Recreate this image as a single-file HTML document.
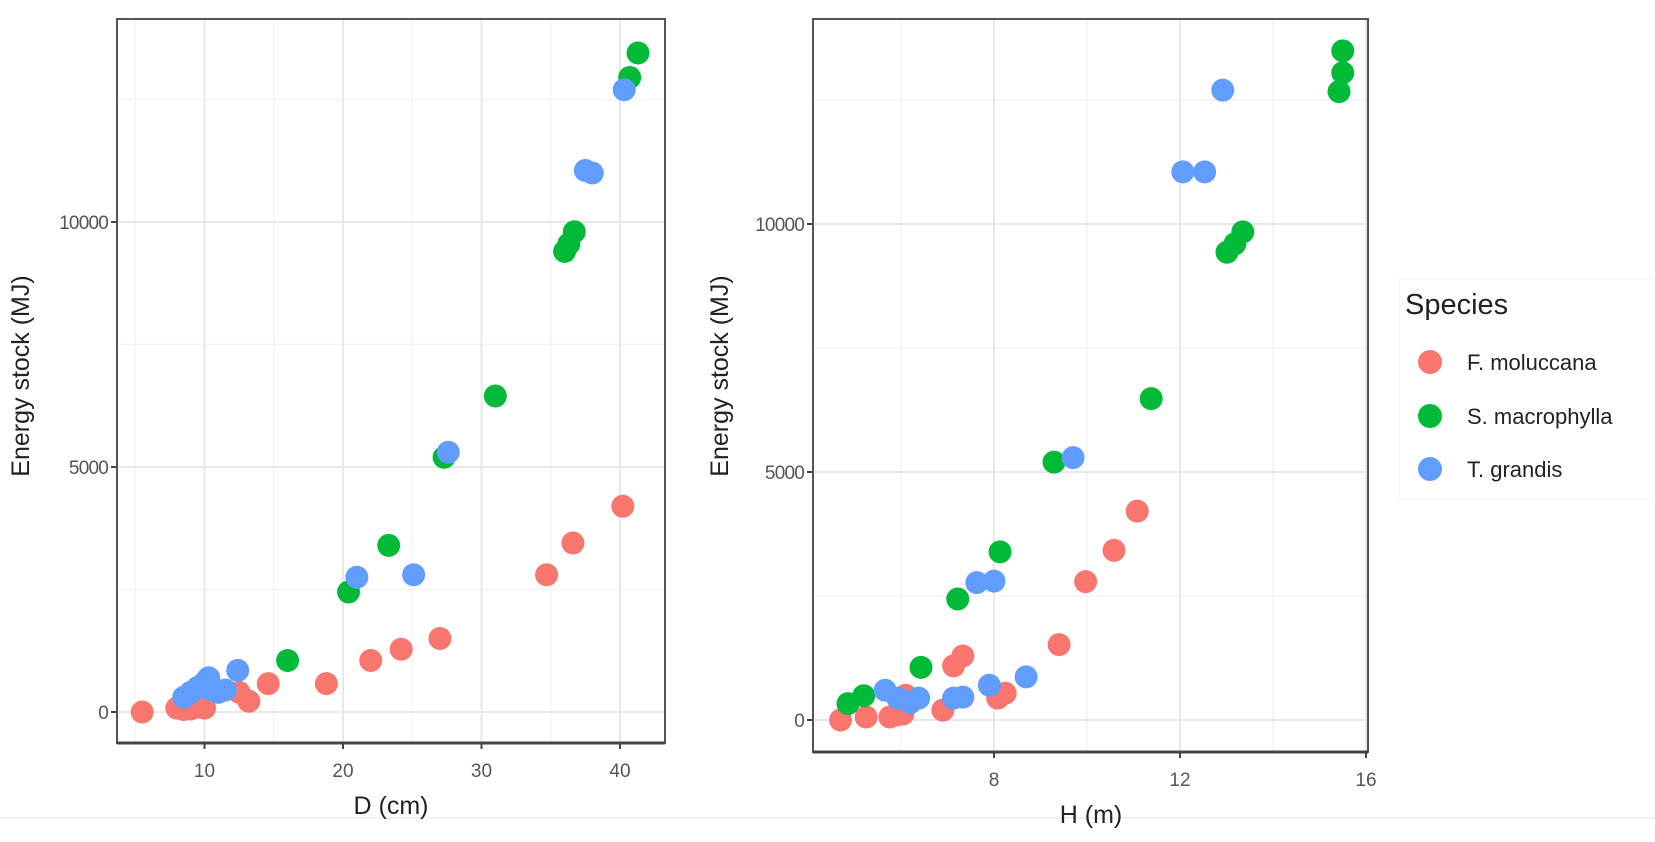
<!DOCTYPE html>
<html><head><meta charset="utf-8">
<style>
html,body{margin:0;padding:0;background:#fff;}
svg{display:block;font-family:"Liberation Sans",sans-serif;}
</style></head>
<body>
<svg id="chart" width="1655" height="842" viewBox="0 0 1655 842" xmlns="http://www.w3.org/2000/svg">
<line x1="0" y1="818" x2="1655" y2="818" stroke="#f0f0f0" stroke-width="2"/>
<g id="left"></g>
<g id="right"></g>
<g id="legend">
  <rect x="1399" y="279" width="256" height="220" fill="#fff" stroke="#f3f3f3"/>
  <text x="1405" y="314" font-size="29" fill="#222">Species</text>
  <circle cx="1430" cy="362" r="12" fill="#F8766D"/>
  <text x="1467" y="370" font-size="22" fill="#222">F. moluccana</text>
  <circle cx="1430" cy="416" r="12" fill="#00BA38"/>
  <text x="1467" y="424" font-size="22" fill="#222">S. macrophylla</text>
  <circle cx="1430" cy="469" r="12" fill="#619CFF"/>
  <text x="1467" y="477" font-size="22" fill="#222">T. grandis</text>
</g>
</svg>
<script>
// ---- data: left panel (D cm vs energy MJ) ----
const leftRedD = [5.5,8,8.5,9,9.5,10,12.5,13.2,14.6,18.8,22,24.2,27,34.7,36.6,40.2];
const leftRedE = [0,80,50,60,100,80,400,220,580,580,1050,1280,1500,2800,3450,4200];
const leftGreenD = [16,20.4,23.3,27.3,31,36,36.3,36.7,40.7,41.3];
const leftGreenE = [1050,2450,3400,5200,6450,9400,9550,9800,12950,13450];
const leftBlueD = [8.5,9,9.5,10,10.3,10.5,11,11.5,12.4,21,25.1,27.6,37.5,38,40.3];
const leftBlueE = [300,400,500,600,700,450,400,450,850,2750,2800,5300,11050,11000,12700];
// ---- data: right panel (H m vs energy MJ) ----
const rightRedH = [4.7,5.25,5.76,5.9,6.04,6.1,6.9,7.13,7.33,8.08,8.24,9.4,9.97,10.58,11.08];
const rightRedE = [0,60,60,100,120,500,200,1090,1290,440,540,1520,2790,3420,4210];
const rightGreenH = [4.86,5.2,6.43,7.22,8.13,9.29,11.38,13.01,13.18,13.35,15.42,15.5,15.5];
const rightGreenE = [330,490,1060,2440,3390,5200,6480,9430,9600,9840,12670,13050,13490];
const rightBlueH = [5.66,5.93,6.2,6.38,7.13,7.33,7.9,8.69,7.63,8.0,9.7,12.06,12.53,12.92];
const rightBlueE = [600,440,350,440,440,460,700,870,2770,2800,5290,11050,11050,12700];
// ---- ticks ----
const leftXTicks = [10,20,30,40];
const leftXMinor = [5,15,25,35];
const rightXTicks = [8,12,16];
const rightXMinor = [6,10,14];
const yTicks = [0,5000,10000];
const yMinor = [2500,7500,12500];

const NS="http://www.w3.org/2000/svg";
const RED="#F8766D", GREEN="#00BA38", BLUE="#619CFF";
function mk(tag, attrs, parent){const e=document.createElementNS(NS,tag);for(const k in attrs)e.setAttribute(k,attrs[k]);parent.appendChild(e);return e;}

function panel(g, cfg){
  const sx=v=>cfg.x0+(v-cfg.xv0)*cfg.xs;
  const sy=v=>cfg.y0-v*cfg.ys;
  const bg=mk('rect',{x:cfg.L,y:cfg.T,width:cfg.R-cfg.L,height:cfg.B-cfg.T,fill:'#fff'},g);
  
  
  cfg.xMinor.forEach(v=>{const l=mk('line',{x1:sx(v),x2:sx(v),y1:cfg.T,y2:cfg.B,stroke:'#f4f4f4','stroke-width':1.5},g);
    
    });
  yMinor.forEach(v=>{const l=mk('line',{x1:cfg.L,x2:cfg.R,y1:sy(v),y2:sy(v),stroke:'#f4f4f4','stroke-width':1.5},g);
    
    });
  cfg.xTicks.forEach(v=>{const l=mk('line',{x1:sx(v),x2:sx(v),y1:cfg.T,y2:cfg.B,stroke:'#e8e8e8','stroke-width':2},g);
    
    
    const t=mk('line',{x1:sx(v),x2:sx(v),y1:cfg.B,y2:cfg.B+6,stroke:'#444','stroke-width':2},g);
    
    
    const tx=mk('text',{x:sx(v),y:cfg.B+34,'text-anchor':'middle','font-size':19,fill:'#555'},g);
    tx.textContent=v;
    
    });
  yTicks.forEach(v=>{const l=mk('line',{x1:cfg.L,x2:cfg.R,y1:sy(v),y2:sy(v),stroke:'#e8e8e8','stroke-width':2},g);
    
    
    const t=mk('line',{x1:cfg.L-6,x2:cfg.L,y1:sy(v),y2:sy(v),stroke:'#444','stroke-width':2},g);
    
    
    const tx=mk('text',{x:cfg.L-9,y:sy(v)+7,'text-anchor':'end','font-size':19,fill:'#555','letter-spacing':'-0.8'},g);
    tx.textContent=v;
    
    });
  const series=[[cfg.rx,cfg.ry,RED,'f-moluccana'],[cfg.gx,cfg.gy,GREEN,'s-macrophylla'],[cfg.bx,cfg.by,BLUE,'t-grandis']];
  series.forEach(([xs,ys,col,nm])=>{xs.forEach((xv,i)=>{
    const c=mk('circle',{cx:sx(xv),cy:sy(ys[i]),r:11.5,fill:col},g);
    
    });});
  const fr=mk('rect',{x:cfg.L,y:cfg.T,width:cfg.R-cfg.L,height:cfg.B-cfg.T,fill:'none',stroke:'#555','stroke-width':2},g);
  
  
  const ax=mk('line',{x1:cfg.L,x2:cfg.R,y1:cfg.B,y2:cfg.B,stroke:'#444','stroke-width':3},g);
  
  
  const xt=mk('text',{x:cfg.xtX,y:cfg.xtY,'text-anchor':'middle','font-size':25,fill:'#222'},g);
  xt.textContent=cfg.xTitle;
  
  
  const yt=mk('text',{x:0,y:0,'text-anchor':'middle','font-size':25,fill:'#222',transform:`translate(${cfg.ytX},376) rotate(-90)`},g);
  yt.textContent='Energy stock (MJ)';
  
  
}

panel(document.getElementById('left'),{L:117,R:665,T:19,B:743,x0:66,xv0:0,xs:13.85,y0:712,ys:0.049,
  xTicks:leftXTicks,xMinor:leftXMinor,rx:leftRedD,ry:leftRedE,gx:leftGreenD,gy:leftGreenE,bx:leftBlueD,by:leftBlueE,
  xTitle:'D (cm)',xtX:391,xtY:814,ytX:29});
panel(document.getElementById('right'),{L:813,R:1368,T:19,B:752,x0:994,xv0:8,xs:46.5,y0:720,ys:0.0496,
  xTicks:rightXTicks,xMinor:rightXMinor,rx:rightRedH,ry:rightRedE,gx:rightGreenH,gy:rightGreenE,bx:rightBlueH,by:rightBlueE,
  xTitle:'H (m)',xtX:1091,xtY:823,ytX:728});
</script>
</body></html>
